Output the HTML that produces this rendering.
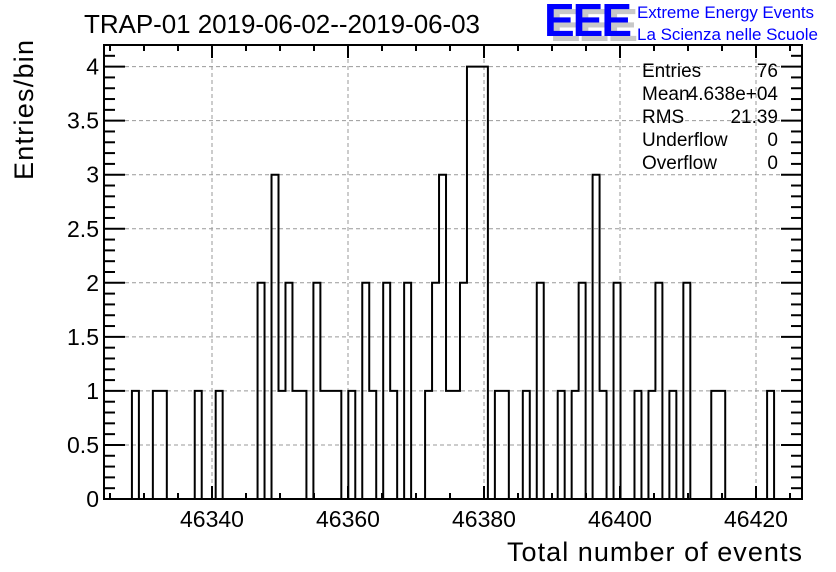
<!DOCTYPE html>
<html><head><meta charset="utf-8"><style>
body{margin:0;background:#fff;}
svg{display:block;font-family:"Liberation Sans",Arial,sans-serif;}
</style></head><body>
<svg id="c" width="836" height="572" xmlns="http://www.w3.org/2000/svg">
<text x="84" y="33" font-size="26" textLength="396">TRAP-01 2019-06-02--2019-06-03</text>
<g>
<text x="550" y="41" font-size="46" font-weight="bold" fill="#c8c8c8" letter-spacing="-2">EEE</text>
<text x="544" y="36" font-size="46" font-weight="bold" fill="#0000ff" letter-spacing="-2">EEE</text>
<text x="637" y="18" font-size="17" fill="#0000ff" textLength="177">Extreme Energy Events</text>
<text x="637" y="40" font-size="17" fill="#0000ff" textLength="181">La Scienza nelle Scuole</text>
</g>
<g id="grid"></g>
<g id="hist"></g>
<g id="axes"></g>
<g font-size="19">
<text x="642" y="77">Entries</text><text x="778" y="77" text-anchor="end">76</text>
<text x="642" y="100">Mean</text><text x="778" y="100" text-anchor="end">4.638e+04</text>
<text x="642" y="123">RMS</text><text x="778" y="123" text-anchor="end">21.39</text>
<text x="642" y="146">Underflow</text><text x="778" y="146" text-anchor="end">0</text>
<text x="642" y="169">Overflow</text><text x="778" y="169" text-anchor="end">0</text>
</g>
<text x="802" y="561" font-size="27" text-anchor="end" textLength="295">Total number of events</text>
<text transform="translate(33,40) rotate(-90)" x="0" y="0" font-size="27" text-anchor="end" textLength="140">Entries/bin</text>
</svg>
<script>
const counts=[0,0,0,0,1,0,0,1,1,0,0,0,0,1,0,0,1,0,0,0,0,0,2,0,3,1,2,1,1,0,2,1,1,1,0,1,0,2,1,0,2,1,0,2,0,0,1,2,3,1,1,2,4,4,4,0,1,1,0,0,1,0,2,0,0,1,0,1,2,0,3,1,0,2,0,0,1,0,1,2,0,1,0,2,0,0,0,1,1,0,0,0,0,0,0,1,0,0,0,0];
const xTicks=[46340,46360,46380,46400,46420];
const yTicks=[0,0.5,1,1.5,2,2.5,3,3.5,4];
const xMin=46340-108/6.8, xMax=46420+46/6.8, yMax=4.2;
const L=104,R=802,T=45,B=499;
const NS="http://www.w3.org/2000/svg";
const xs=v=>L+(v-xMin)/(xMax-xMin)*(R-L);
const ys=v=>B-v/yMax*(B-T);
function mk(tag,attrs,parent){const e=document.createElementNS(NS,tag);for(const k in attrs)e.setAttribute(k,attrs[k]);parent.appendChild(e);return e;}
const grid=document.getElementById('grid'),axes=document.getElementById('axes'),hist=document.getElementById('hist');
xTicks.forEach(t=>{const l=mk('line',{x1:xs(t),x2:xs(t),y1:T,y2:B,stroke:'#999','stroke-dasharray':'4,3','stroke-width':1},grid);
});
yTicks.forEach(t=>{if(t===0)return;const l=mk('line',{x1:L,x2:R,y1:ys(t),y2:ys(t),stroke:'#999','stroke-dasharray':'4,3','stroke-width':1},grid);
});
const n=counts.length,bw=(R-L)/n;
let d='M'+L+','+B;
counts.forEach((c,i)=>{const x0=L+i*bw,x1=L+(i+1)*bw;d+=' L'+x0+','+ys(c)+' L'+x1+','+ys(c);});
d+=' L'+R+','+B;
const p=mk('path',{d:d,fill:'none',stroke:'#000','stroke-width':2},hist);

const f=mk('rect',{x:L,y:T,width:R-L,height:B-T,fill:'none',stroke:'#000','stroke-width':2},axes);

for(let v=46325;v<=46425;v+=5){const maj=v%20===0;const x=xs(v);const len=maj?13:6;
const a=mk('line',{x1:x,x2:x,y1:B,y2:B-len,stroke:'#000','stroke-width':2},axes);

const b=mk('line',{x1:x,x2:x,y1:T,y2:T+len,stroke:'#000','stroke-width':2},axes);
}
xTicks.forEach(t=>{const e=mk('text',{x:xs(t),y:527,'font-size':23,'text-anchor':'middle'},axes);e.textContent=t;
});
for(let k=0;k<=42;k++){const v=k/10;const maj=k%5===0;const y=ys(v);const len=maj?21:11;
const a=mk('line',{x1:L,x2:L+len,y1:y,y2:y,stroke:'#000','stroke-width':2},axes);

const b=mk('line',{x1:R,x2:R-len,y1:y,y2:y,stroke:'#000','stroke-width':2},axes);
}
yTicks.forEach(t=>{const e=mk('text',{x:99,y:ys(t)+8,'font-size':23,'text-anchor':'end'},axes);e.textContent=String(t);
});
</script>
</body></html>
